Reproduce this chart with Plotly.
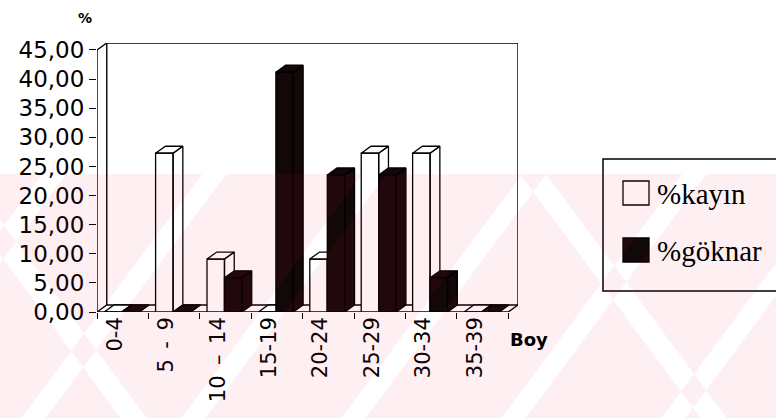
import plotly.graph_objects as go

# --- data -------------------------------------------------------------
categories = ["0-4", "5\u2002-\u20029", "10\u2002–\u200214", "15-19",
              "20-24", "25-29", "30-34", "35-39"]
kayin = [0.00, 27.27, 9.09, 0.00, 9.09, 27.27, 27.27, 0.00]
goknar = [0.00, 0.00, 5.88, 41.18, 23.53, 23.53, 5.88, 0.00]
series_names = ["%kayın", "%göknar"]
y_ticks = [0, 5, 10, 15, 20, 25, 30, 35, 40, 45]

# --- geometry of the pseudo-3D box ------------------------------------
W, H = 776, 418
ML, MR, MT, MB = 97, 258, 43, 106
DX, DY = 0.19, 1.2          # depth offset (x in categories, y in %)
BAR_W = 0.34                # front face width of one bar
OFFSETS = [-0.36, -0.02]    # left edge of each series relative to centre
Y_MAX = 45
N = len(categories)

INK = "#000000"
DARK = "#120808"
fills = ["#ffffff", DARK]

fig = go.Figure()

# box: front-left edge, back wall and floor
x0, x1 = -0.5, N - 0.5
frame_x = [x0, x0, x0 + DX, x1 + DX, x1 + DX, None,
           x0 + DX, x0 + DX, None,
           x0, x1, x1 + DX, None,
           x0, x0 + DX, x1 + DX]
frame_y = [0, Y_MAX, Y_MAX + DY, Y_MAX + DY, DY, None,
           Y_MAX + DY, DY, None,
           0, 0, DY, None,
           0, DY, DY]
fig.add_trace(go.Scatter(x=frame_x, y=frame_y, mode="lines",
                         line=dict(color=INK, width=1.4),
                         hoverinfo="skip", showlegend=False))


def box_faces(left, v):
    """front, top and side faces of one column, as None-separated rings"""
    r = left + BAR_W
    xs = [left, r, r, left, left, None,
          left, r, r + DX, left + DX, left, None,
          r, r + DX, r + DX, r, r]
    ys = [0, 0, v, v, 0, None,
          v, v, v + DY, v + DY, v, None,
          0, DY, v + DY, v, 0]
    return xs, ys


series = [kayin, goknar]
for i in range(N):
    for s, vals in enumerate(series):
        xs, ys = box_faces(i + OFFSETS[s], vals[i])
        fig.add_trace(go.Scatter(
            x=xs, y=ys, mode="lines", fill="toself",
            fillcolor=fills[s], line=dict(color=INK, width=1.3),
            name=series_names[s], hoverinfo="skip", showlegend=False))

# --- axes ---------------------------------------------------------------
fig.update_xaxes(
    range=[x0, x1 + DX], showgrid=False, zeroline=False, showline=False,
    tickmode="array", tickvals=[i - 0.15 for i in range(N)],
    ticktext=categories, tickangle=-90, ticks="",
    tickfont=dict(family="DejaVu Sans", size=21, color=INK),
    minor=dict(tickmode="array", tickvals=[i - 0.5 for i in range(N + 1)],
               ticks="outside", ticklen=6, tickwidth=1.3, tickcolor=INK,
               showgrid=False),
)
fig.update_yaxes(
    range=[0, Y_MAX + DY], showgrid=False, zeroline=False, showline=False,
    tickmode="array", tickvals=y_ticks, tickformat=".2f",
    ticks="outside", ticklen=7, tickwidth=1.3, tickcolor=INK,
    tickfont=dict(family="DejaVu Sans", size=23, color=INK),
)


# --- helpers: page pixels -> paper coordinates ----------------------------
PW, PH = W - ML - MR, H - MT - MB


def px(x):
    return (x - ML) / PW


def py(y):
    return (H - MB - y) / PH


shapes = []
annotations = []

# legend box with its two swatches
shapes.append(dict(type="rect", xref="paper", yref="paper",
                   x0=px(603), x1=px(790), y0=py(291), y1=py(159),
                   line=dict(color=INK, width=1.5), fillcolor="rgba(0,0,0,0)"))
for k, (top, name) in enumerate(zip([181, 238], series_names)):
    shapes.append(dict(type="rect", xref="paper", yref="paper",
                       x0=px(623), x1=px(649), y0=py(top + 24), y1=py(top),
                       line=dict(color=INK, width=1.3), fillcolor=fills[k]))
    annotations.append(dict(xref="paper", yref="paper", x=px(655),
                            y=py(top + 13), text=name, showarrow=False,
                            xanchor="left", yanchor="middle",
                            font=dict(family="Liberation Serif", size=29,
                                      color=INK)))

# unit label and category axis title
annotations.append(dict(xref="paper", yref="paper", x=px(85), y=py(18),
                        text="<b>%</b>", showarrow=False, xanchor="center",
                        yanchor="middle",
                        font=dict(family="DejaVu Sans", size=14, color=INK)))
annotations.append(dict(xref="paper", yref="paper", x=px(508), y=py(340),
                        text="<b>Boy</b>", showarrow=False, xanchor="left",
                        yanchor="middle",
                        font=dict(family="DejaVu Sans", size=18, color=INK)))

# faint pink band over the lower part of the page, cut by thin white
# diagonal stripes in both directions (even-odd fill leaves them clear)
TOP, BOT = 174, H + 2
SLOPE = 1.35
SHIFT = (BOT - TOP) / SLOPE
parts = [f"M {px(-5)},{py(TOP)} L {px(W + 5)},{py(TOP)} "
         f"L {px(W + 5)},{py(BOT)} L {px(-5)},{py(BOT)} Z"]
for start in range(-300, 800, 160):
    a, b = start, start + 24
    parts.append(f"M {px(a)},{py(BOT)} L {px(b)},{py(BOT)} "
                 f"L {px(b + SHIFT)},{py(TOP)} L {px(a + SHIFT)},{py(TOP)} Z")
for start in [-60, 520]:
    a, b = start, start + 26
    parts.append(f"M {px(a)},{py(TOP)} L {px(b)},{py(TOP)} "
                 f"L {px(b + SHIFT)},{py(BOT)} L {px(a + SHIFT)},{py(BOT)} Z")
shapes.append(dict(type="path", xref="paper", yref="paper",
                   path=" ".join(parts), fillrule="evenodd",
                   fillcolor="rgb(233,11,55)", opacity=0.065,
                   line=dict(width=0), layer="above"))

fig.update_layout(
    width=W, height=H,
    margin=dict(l=ML, r=MR, t=MT, b=MB, autoexpand=False),
    paper_bgcolor="white", plot_bgcolor="rgba(0,0,0,0)",
    separators=",.", showlegend=False,
    shapes=shapes, annotations=annotations,
)

fig.write_html("out.html")
